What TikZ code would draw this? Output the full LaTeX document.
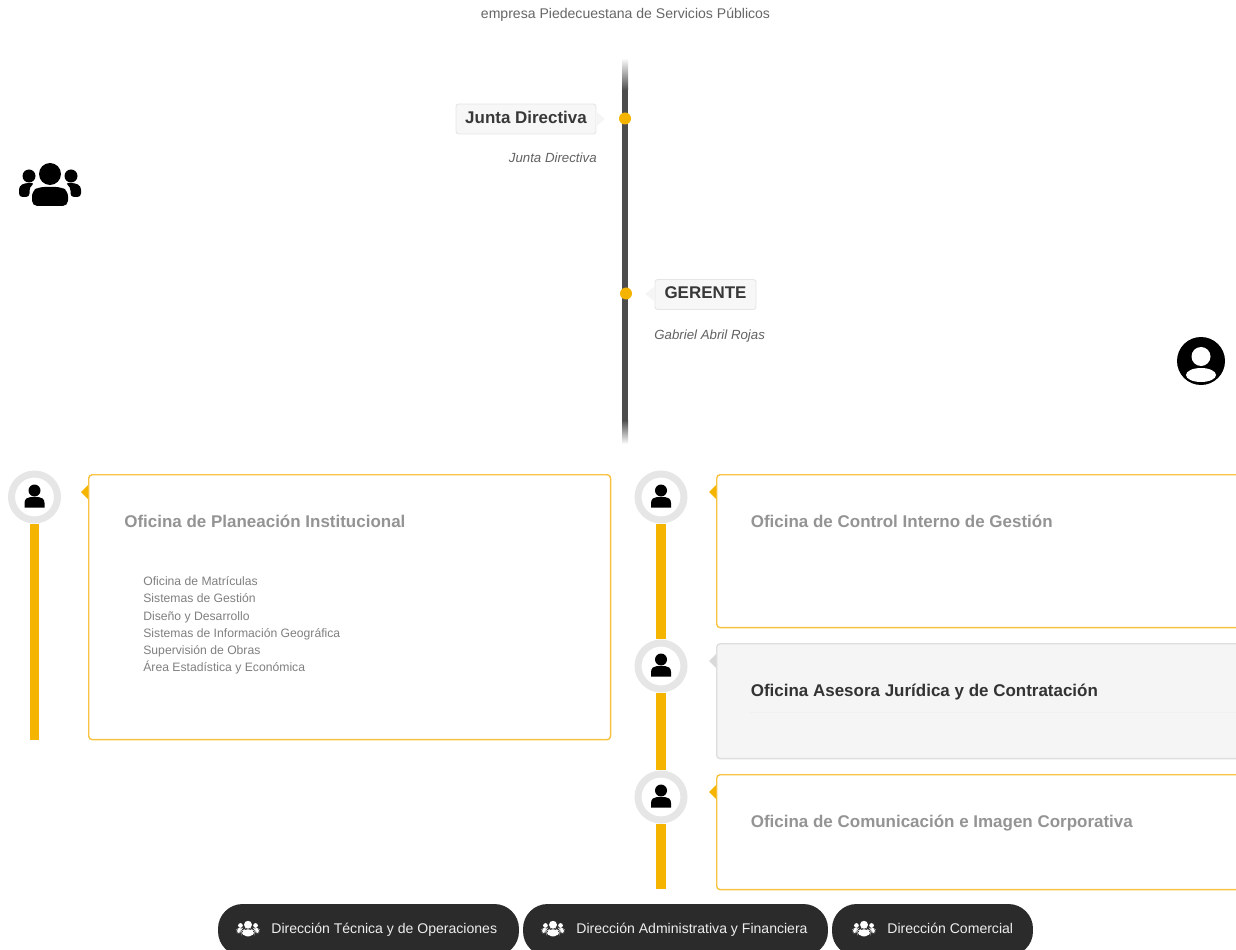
\documentclass[tikz,border=0pt]{standalone}
\usepackage{fontspec}
\setmainfont{Liberation Sans}
\usetikzlibrary{positioning, calc}

\definecolor{amber}{HTML}{F5B400}
\definecolor{amberline}{HTML}{F8C340}
\definecolor{ringgray}{HTML}{E6E6E6}
\definecolor{spine}{HTML}{4D4D4D}
\definecolor{pilldark}{HTML}{2B2B2B}

\tikzset{
  headtag/.style={draw=black!10, fill=black!3, rounded corners=1.5pt, line width=.5pt, inner sep=0pt,
    minimum height=0.6cm, text depth=2pt, text=black!78, font=\fontsize{9.65}{11}\selectfont\bfseries},
  subtag/.style={text=black!62, inner sep=0pt, font=\fontsize{7.55}{9}\selectfont\itshape},
  ring/.style={circle, draw=ringgray, line width=4pt, fill=white, minimum size=0.92cm, inner sep=0pt},
  bar/.style={amber, line width=5.67pt},
  card/.style={draw=amberline, fill=white, rounded corners=2pt, line width=.8pt, anchor=north west, inner sep=0pt},
  cardtitle/.style={anchor=west, inner sep=0pt, text=black!42, font=\fontsize{9.66}{11}\selectfont\bfseries},
  pill/.style={fill=pilldark, rounded corners=14pt, minimum height=1.04cm, inner sep=0pt},
  pilltext/.style={anchor=base west, inner sep=0pt, text=black!7, font=\fontsize{8}{9}\selectfont},
  personicon/.pic={
    \fill[pic actions] (0,-6.5) circle (6);
    \fill[pic actions] (-10,10.5) -- (-10,6) .. controls (-10,2) and (-7,0) .. (-4,0) -- (4,0) .. controls (7,0) and (10,2) .. (10,6) -- (10,10.5) -- cycle;
  },
  groupicon/.pic={
    \fill[pic actions] (0,-9) circle (11);
    \fill[pic actions] (-21,-7) circle (6.5);
    \fill[pic actions] (21,-7) circle (6.5);
    \fill[pic actions, rounded corners=3pt] (-18,23) -- (-18,8) -- (-11,4) -- (11,4) -- (18,8) -- (18,23) -- cycle;
    \fill[pic actions, rounded corners=2pt] (-31,14) -- (-31,3) -- (-25,0) -- (-15,0) -- (-20.5,4) -- (-20.5,14) -- cycle;
    \fill[pic actions, rounded corners=2pt] (31,14) -- (31,3) -- (25,0) -- (15,0) -- (20.5,4) -- (20.5,14) -- cycle;
  },
}

\begin{document}
\begin{tikzpicture}[x=0.02cm, y=-0.02cm]
\clip (0,0) rectangle (1236,949);

\node[text=black!60, inner sep=0pt, font=\fontsize{8}{9}\selectfont] (heading) at (625.5,15) {empresa Piedecuestana de Servicios Públicos};

% the grey spine with its two faded ends
\coordinate (spinetop) at (625,58);
\coordinate (spinein) at (625,90);
\coordinate (spineout) at (625,420);
\coordinate (spinebottom) at (625,444);
\shade[top color=white, bottom color=spine] ($(spinetop)+(-3,0)$) rectangle ($(spinein)+(3,0)$);
\draw[spine, line width=3.4pt] (spinein) -- (spineout);
\shade[top color=spine, bottom color=white] ($(spineout)+(-3,0)$) rectangle ($(spinebottom)+(3,0)$);

\fill[amber] (625,118.5) circle (6);
\fill[amber] (626,293.5) circle (6);

\node[headtag, minimum width=2.8cm] (junta) at (526,119) {Junta Directiva};
\node[headtag, minimum width=2.02cm] (gerente) at (705.5,294.5) {GERENTE};
\fill[black!4] (605,119) -- (597,112) -- (597,126) -- cycle;
\fill[black!4] (645,294) -- (654,287) -- (654,301) -- cycle;
\node[subtag, anchor=east] (juntaname) at (597,157.5) {Junta Directiva};
\node[subtag, anchor=west] (gerentename) at (654,336) {Gabriel Abril Rojas};

\pic[fill=black] at (50,183) {groupicon};
\fill[black] (1201,361) circle (24);
\fill[white] (1201,356.5) circle (9.5);
\fill[white] (1201,375) ellipse (15 and 7);

% the four office cards
\node[card, minimum width=10.44cm, minimum height=5.3cm] (planeacion) at (88,474) {};
\node[card, minimum width=11cm, minimum height=3.06cm] (control) at (716,474) {};
\node[card, draw=black!13, fill=black!4, minimum width=11cm, minimum height=2.3cm] (asesora) at (716,643) {};
\node[card, minimum width=11cm, minimum height=2.3cm] (comunicacion) at (716,774) {};
\draw[black!6, line width=.4pt] (750,712) -- (1236,712);

\foreach \x/\y/\c in {88/492/amber, 716/492/amber, 716/661/black!15, 716/792/amber} {
    \fill[\c] (\x-7,\y) -- (\x,\y-7) -- (\x,\y+7) -- cycle;
};

\node[cardtitle] (planeaciontitle) at (124,521) {Oficina de Planeación Institucional};
\node[cardtitle] (controltitle) at (750.5,521) {Oficina de Control Interno de Gestión};
\node[cardtitle, text=black!80] (asesoratitle) at (750.5,692) {Oficina Asesora Jurídica y de Contratación};
\node[cardtitle] (comunicaciontitle) at (750.5,823) {Oficina de Comunicación e Imagen Corporativa};

\node[anchor=north west, inner sep=0pt, align=left, text=black!50, font=\fontsize{6.93}{9.75}\selectfont] (planeacionlist) at (143,576.5) {Oficina de Matrículas\\Sistemas de Gestión\\Diseño y Desarrollo\\Sistemas de Información Geográfica\\Supervisión de Obras\\Área Estadística y Económica};

% rings and the bars that hang from them
\node[ring] (ringa) at (34.5,497) {};
\node[ring] (ringb) at (661,497) {};
\node[ring] (ringc) at (661,666) {};
\node[ring] (ringd) at (661,797) {};
\coordinate (baraend) at (34.5,740);
\coordinate (bardend) at (661,889);
\draw[bar] (ringa) -- (baraend);
\draw[bar] (ringb) -- (ringc);
\draw[bar] (ringc) -- (ringd);
\draw[bar] (ringd) -- (bardend);
\foreach \r in {ringa, ringb, ringc, ringd} {
    \pic[fill=black] at (\r) {personicon};
};

% the dark buttons along the bottom
\node[pill, minimum width=6.02cm] (tecnica) at (368.5,930) {};
\node[pill, minimum width=6.1cm] (administrativa) at (675.5,930) {};
\node[pill, minimum width=4.02cm] (comercial) at (932.5,930) {};
\foreach \x in {248, 553, 864} {
    \pic[fill=white, scale=.36] at (\x,928) {groupicon};
};
\node[pilltext] (tecnicatext) at (271,933) {Dirección Técnica y de Operaciones};
\node[pilltext] (administrativatext) at (576,933) {Dirección Administrativa y Financiera};
\node[pilltext] (comercialtext) at (887,933) {Dirección Comercial};
\end{tikzpicture}
\end{document}
